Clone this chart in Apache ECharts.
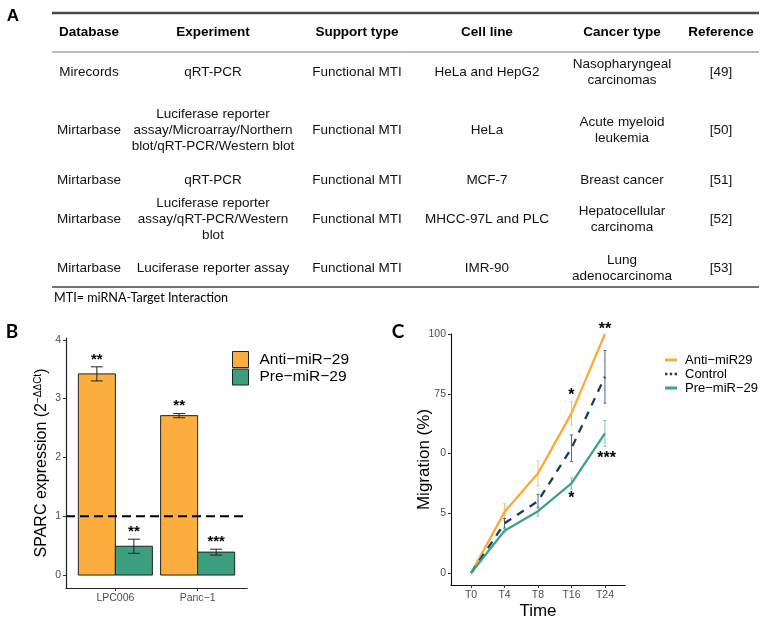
<!DOCTYPE html>
<html>
<head>
<meta charset="utf-8">
<script src="https://cdn.jsdelivr.net/npm/echarts@6/dist/echarts.min.js"></script>
<style>
html, body { margin: 0; padding: 0; background: #fff; }
#main { width: 766px; height: 617px; }
</style>
</head>
<body>
<div id="main"></div>
<script>
// ---- panel A : table ----
const tableHeaders = ['Database', 'Experiment', 'Support type', 'Cell line', 'Cancer type', 'Reference'];
const tableRows = [
  ['Mirecords', 'qRT-PCR', 'Functional MTI', 'HeLa and HepG2', 'Nasopharyngeal\ncarcinomas', '[49]'],
  ['Mirtarbase', 'Luciferase reporter\nassay/Microarray/Northern\nblot/qRT-PCR/Western blot', 'Functional MTI', 'HeLa', 'Acute myeloid\nleukemia', '[50]'],
  ['Mirtarbase', 'qRT-PCR', 'Functional MTI', 'MCF-7', 'Breast cancer', '[51]'],
  ['Mirtarbase', 'Luciferase reporter\nassay/qRT-PCR/Western\nblot', 'Functional MTI', 'MHCC-97L and PLC', 'Hepatocellular\ncarcinoma', '[52]'],
  ['Mirtarbase', 'Luciferase reporter assay', 'Functional MTI', 'IMR-90', 'Lung\nadenocarcinoma', '[53]']
];
const tableNote = 'MTI= miRNA-Target Interaction';

// ---- panel B : SPARC expression ----
const bCategories = ['LPC006', 'Panc\u22121'];
const bAnti = [3.42, 2.71];
const bAntiErr = [0.12, 0.035];
const bPre = [0.49, 0.39];
const bPreErr = [0.12, 0.05];
const bAntiStars = ['**', '**'];
const bAntiStarY = [3.71, 2.93];
const bPreStars = ['**', '***'];
const bPreStarY = [0.78, 0.61];
const bRefLine = 1;
const bYTicks = [0, 1, 2, 3, 4];

// ---- panel C : migration ----
const cTimes = ['T0', 'T4', 'T8', 'T16', 'T24'];
const cAnti = [0, 25.5, 41.7, 66.8, 100];
const cAntiErr = [0, 3.5, 5.2, 4.9, 0];
const cControl = [0, 20.8, 30.1, 52.2, 82.1];
const cControlErr = [0, 2.0, 2.8, 5.6, 11];
const cPre = [0, 17.7, 25.9, 37.5, 58.4];
const cPreErr = [0, 0.8, 2.1, 2.3, 5.4];
const cStarText = ['*', '**', '*', '***'];
const cStarX = [3, 4, 3, 4.05];
const cStarY = [75.3, 102.9, 32.6, 49.0];
const cYTicks = [0, 25, 50, 75, 100];
const cYTickLabels = ['0', '5', '0', '75', '100'];

const sans = '"Liberation Sans", Arial, sans-serif';
const calibri = 'Lato, "Open Sans", sans-serif';
const orange = '#FCAE3E';
const green = '#3A9E7F';
const cOrange = '#FBAA3A';
const cNavy = '#1F3B5C';
const cGreen = '#3BA480';

// table layout
const colX = [89, 213, 357, 487, 622, 721];
const rowY = [72, 130, 180, 219, 268];
const graphics = [];
graphics.push({ type: 'line', shape: { x1: 52, y1: 13, x2: 759, y2: 13 }, style: { stroke: '#4a4a4a', lineWidth: 2.5 } });
graphics.push({ type: 'line', shape: { x1: 52, y1: 52, x2: 759, y2: 52 }, style: { stroke: '#777', lineWidth: 1 } });
graphics.push({ type: 'line', shape: { x1: 52, y1: 287, x2: 759, y2: 287 }, style: { stroke: '#444', lineWidth: 1.5 } });
tableHeaders.forEach(function (h, j) {
  graphics.push({ type: 'text', x: colX[j], y: 32, style: { text: h, fill: '#000', font: 'bold 13.5px ' + sans, textAlign: 'center', textVerticalAlign: 'middle', align: 'center', verticalAlign: 'middle' } });
});
tableRows.forEach(function (row, i) {
  row.forEach(function (cell, j) {
    graphics.push({ type: 'text', x: colX[j], y: rowY[i], style: { text: cell, fill: '#111', font: '13.5px ' + sans, lineHeight: 15.8, textAlign: 'center', textVerticalAlign: 'middle', align: 'center', verticalAlign: 'middle' } });
  });
});
graphics.push({ type: 'text', x: 54, y: 298, style: { text: tableNote, fill: '#000', font: '12.6px ' + calibri, textVerticalAlign: 'middle', verticalAlign: 'middle' } });
graphics.push({ type: 'text', x: 13, y: 16, style: { text: 'A', fill: '#000', font: 'bold 17px ' + sans, textAlign: 'center', textVerticalAlign: 'middle', align: 'center', verticalAlign: 'middle' } });
graphics.push({ type: 'text', x: 12, y: 332, style: { text: 'B', fill: '#000', font: 'bold 19px ' + calibri, textAlign: 'center', textVerticalAlign: 'middle', align: 'center', verticalAlign: 'middle' } });
graphics.push({ type: 'text', x: 398, y: 332, style: { text: 'C', fill: '#000', font: 'bold 19px ' + calibri, textAlign: 'center', textVerticalAlign: 'middle', align: 'center', verticalAlign: 'middle' } });

function barItem(offset, color) {
  return function (params, api) {
    const c = api.value(0) + offset;
    const p0 = api.coord([c - 0.225, api.value(1)]);
    const p1 = api.coord([c + 0.225, 0]);
    return { type: 'rect', shape: { x: p0[0], y: p0[1], width: p1[0] - p0[0], height: p1[1] - p0[1] },
      style: { fill: color, stroke: '#222', lineWidth: 1 } };
  };
}
function errItem(offset, color, cap, lw) {
  return function (params, api) {
    const x = api.value(0) + offset;
    const v = api.value(1), e = api.value(2);
    if (!e) return null;
    const top = api.coord([x, v + e]);
    const bot = api.coord([x, v - e]);
    const st = { stroke: color, lineWidth: lw };
    return { type: 'group', children: [
      { type: 'line', shape: { x1: top[0], y1: top[1], x2: bot[0], y2: bot[1] }, style: st },
      { type: 'line', shape: { x1: top[0] - cap, y1: top[1], x2: top[0] + cap, y2: top[1] }, style: st },
      { type: 'line', shape: { x1: bot[0] - cap, y1: bot[1], x2: bot[0] + cap, y2: bot[1] }, style: st }
    ] };
  };
}
function starItem(texts, size) {
  return function (params, api) {
    const p = api.coord([api.value(0), api.value(1)]);
    return { type: 'text', x: p[0], y: p[1] + 3,
      style: { text: texts[params.dataIndex], fill: '#000', fontSize: size, fontWeight: 'bold', fontFamily: sans, align: 'center', verticalAlign: 'middle' } };
  };
}

const axisLabelStyle = { color: '#4d4d4d', fontFamily: sans, fontSize: 10.5, margin: 5 };

const chart = echarts.init(document.getElementById('main'));
chart.setOption({
  animation: false,
  backgroundColor: '#fff',
  graphic: { elements: graphics },
  grid: [
    { left: 66, top: 338, width: 181, height: 250, outerBoundsMode: 'none' },
    { left: 451, top: 334, width: 174, height: 251, outerBoundsMode: 'none' }
  ],
  legend: [
    {
      left: 232, top: 351, padding: 0, orient: 'vertical', itemWidth: 16, itemHeight: 16, itemGap: 0.5,
      selectedMode: false, icon: 'rect',
      data: [
        { name: 'Anti\u2212miR\u221229', itemStyle: { color: orange, borderColor: '#222', borderWidth: 1 } },
        { name: 'Pre\u2212miR\u221229', itemStyle: { color: green, borderColor: '#222', borderWidth: 1 } }
      ],
      textStyle: { fontSize: 15.5, fontFamily: sans, color: '#000', padding: [0, 0, 0, 6] }
    },
    {
      left: 665, top: 353, padding: 0, orient: 'vertical', itemWidth: 12, itemHeight: 3, itemGap: 0,
      selectedMode: false,
      data: [
        { name: 'Anti\u2212miR29', icon: 'rect', itemStyle: { color: cOrange } },
        { name: 'Control', icon: 'path://M0,0h2v2h-2zM4,0h2v2h-2zM8,0h2v2h-2z', itemStyle: { color: cNavy } },
        { name: 'Pre\u2212miR\u221229 ', icon: 'rect', itemStyle: { color: cGreen } }
      ],
      textStyle: { fontSize: 13, lineHeight: 14, fontFamily: sans, color: '#000', padding: [0, 0, 0, 3] }
    }
  ],
  xAxis: [
    {
      type: 'value', gridIndex: 0, min: -0.6, max: 1.6,
      axisLine: { onZero: false, lineStyle: { color: '#222', width: 1.2 } },
      axisTick: { customValues: [0, 1], length: 3, lineStyle: { color: '#333' } },
      axisLabel: Object.assign({}, axisLabelStyle, { customValues: [0, 1], formatter: function (v) { return bCategories[Math.round(v)]; } }),
      splitLine: { show: false }
    },
    {
      type: 'value', gridIndex: 1, min: -0.6, max: 4.6,
      name: 'Time', nameLocation: 'middle', nameGap: 18, nameMoveOverlap: false,
      nameTextStyle: { fontSize: 17, fontFamily: sans, color: '#000' },
      axisLine: { onZero: false, lineStyle: { color: '#111', width: 1.1 } },
      axisTick: { customValues: [0, 1, 2, 3, 4], length: 3, lineStyle: { color: '#333' } },
      axisLabel: Object.assign({}, axisLabelStyle, { customValues: [0, 1, 2, 3, 4], formatter: function (v) { return cTimes[Math.round(v)]; } }),
      splitLine: { show: false }
    }
  ],
  yAxis: [
    {
      type: 'value', gridIndex: 0, min: -0.22, max: 4.03,
      name: 'SPARC expression (2{sup|\u2212\u0394\u0394Ct})', nameLocation: 'middle', nameGap: 15, nameRotate: 90,
      nameTextStyle: { fontSize: 16, fontFamily: sans, color: '#000',
        rich: { sup: { fontSize: 10, fontFamily: sans, color: '#000', verticalAlign: 'top', padding: [0, 0, 8, 0] } } },
      axisLine: { onZero: false, lineStyle: { color: '#222', width: 1.2 } },
      axisTick: { customValues: bYTicks, length: 3, lineStyle: { color: '#333' } },
      axisLabel: Object.assign({}, axisLabelStyle, { customValues: bYTicks }),
      splitLine: { show: false }
    },
    {
      type: 'value', gridIndex: 1, min: -5, max: 100,
      name: 'Migration (%)', nameLocation: 'middle', nameGap: 18, nameRotate: 90, nameMoveOverlap: false,
      nameTextStyle: { fontSize: 17, fontFamily: sans, color: '#000' },
      axisLine: { onZero: false, lineStyle: { color: '#111', width: 1.1 } },
      axisTick: { customValues: cYTicks, length: 3, lineStyle: { color: '#333' } },
      axisLabel: Object.assign({}, axisLabelStyle, { customValues: cYTicks, formatter: function (v) { return cYTickLabels[cYTicks.indexOf(v)]; } }),
      splitLine: { show: false }
    }
  ],
  series: [
    // panel B
    { type: 'custom', name: 'Anti\u2212miR\u221229', xAxisIndex: 0, yAxisIndex: 0, itemStyle: { color: orange },
      data: bAnti.map(function (v, i) { return [i, v]; }), renderItem: barItem(-0.225, orange) },
    { type: 'custom', name: 'Pre\u2212miR\u221229', xAxisIndex: 0, yAxisIndex: 0, itemStyle: { color: green },
      data: bPre.map(function (v, i) { return [i, v]; }), renderItem: barItem(0.225, green) },
    { type: 'line', xAxisIndex: 0, yAxisIndex: 0, symbol: 'none', silent: true,
      data: [[-0.6, bRefLine], [1.6, bRefLine]], lineStyle: { color: '#000', width: 2, type: [9, 5] } },
    { type: 'custom', xAxisIndex: 0, yAxisIndex: 0, silent: true,
      data: bAnti.map(function (v, i) { return [i, v, bAntiErr[i]]; }), renderItem: errItem(-0.225, '#222', 6, 1) },
    { type: 'custom', xAxisIndex: 0, yAxisIndex: 0, silent: true,
      data: bPre.map(function (v, i) { return [i, v, bPreErr[i]]; }), renderItem: errItem(0.225, '#222', 6, 1) },
    { type: 'custom', xAxisIndex: 0, yAxisIndex: 0, silent: true,
      data: bAntiStarY.map(function (v, i) { return [i - 0.225, v]; }), renderItem: starItem(bAntiStars, 15) },
    { type: 'custom', xAxisIndex: 0, yAxisIndex: 0, silent: true,
      data: bPreStarY.map(function (v, i) { return [i + 0.225, v]; }), renderItem: starItem(bPreStars, 15) },
    // panel C
    { type: 'custom', xAxisIndex: 1, yAxisIndex: 1, silent: true,
      data: cAnti.map(function (v, i) { return [i, v, cAntiErr[i]]; }), renderItem: errItem(0, '#F9C27A', 1.5, 1) },
    { type: 'custom', xAxisIndex: 1, yAxisIndex: 1, silent: true,
      data: cControl.map(function (v, i) { return [i, v, cControlErr[i]]; }), renderItem: errItem(0, '#4F6680', 1.5, 1) },
    { type: 'custom', xAxisIndex: 1, yAxisIndex: 1, silent: true,
      data: cPre.map(function (v, i) { return [i, v, cPreErr[i]]; }), renderItem: errItem(0, '#7CC7AC', 1.5, 1) },
    { type: 'line', name: 'Anti\u2212miR29', xAxisIndex: 1, yAxisIndex: 1, symbol: 'none', itemStyle: { color: cOrange },
      data: cAnti.map(function (v, i) { return [i, v]; }), lineStyle: { color: cOrange, width: 2.3 } },
    { type: 'line', name: 'Control', xAxisIndex: 1, yAxisIndex: 1, symbol: 'none', itemStyle: { color: cNavy },
      data: cControl.map(function (v, i) { return [i, v]; }), lineStyle: { color: cNavy, width: 2.3, type: [8, 7] } },
    { type: 'line', name: 'Pre\u2212miR\u221229 ', xAxisIndex: 1, yAxisIndex: 1, symbol: 'none', itemStyle: { color: cGreen },
      data: cPre.map(function (v, i) { return [i, v]; }), lineStyle: { color: cGreen, width: 2.3 } },
    { type: 'custom', xAxisIndex: 1, yAxisIndex: 1, silent: true,
      data: cStarY.map(function (v, i) { return [cStarX[i], v]; }), renderItem: starItem(cStarText, 16) }
  ]
});
</script>
</body>
</html>
